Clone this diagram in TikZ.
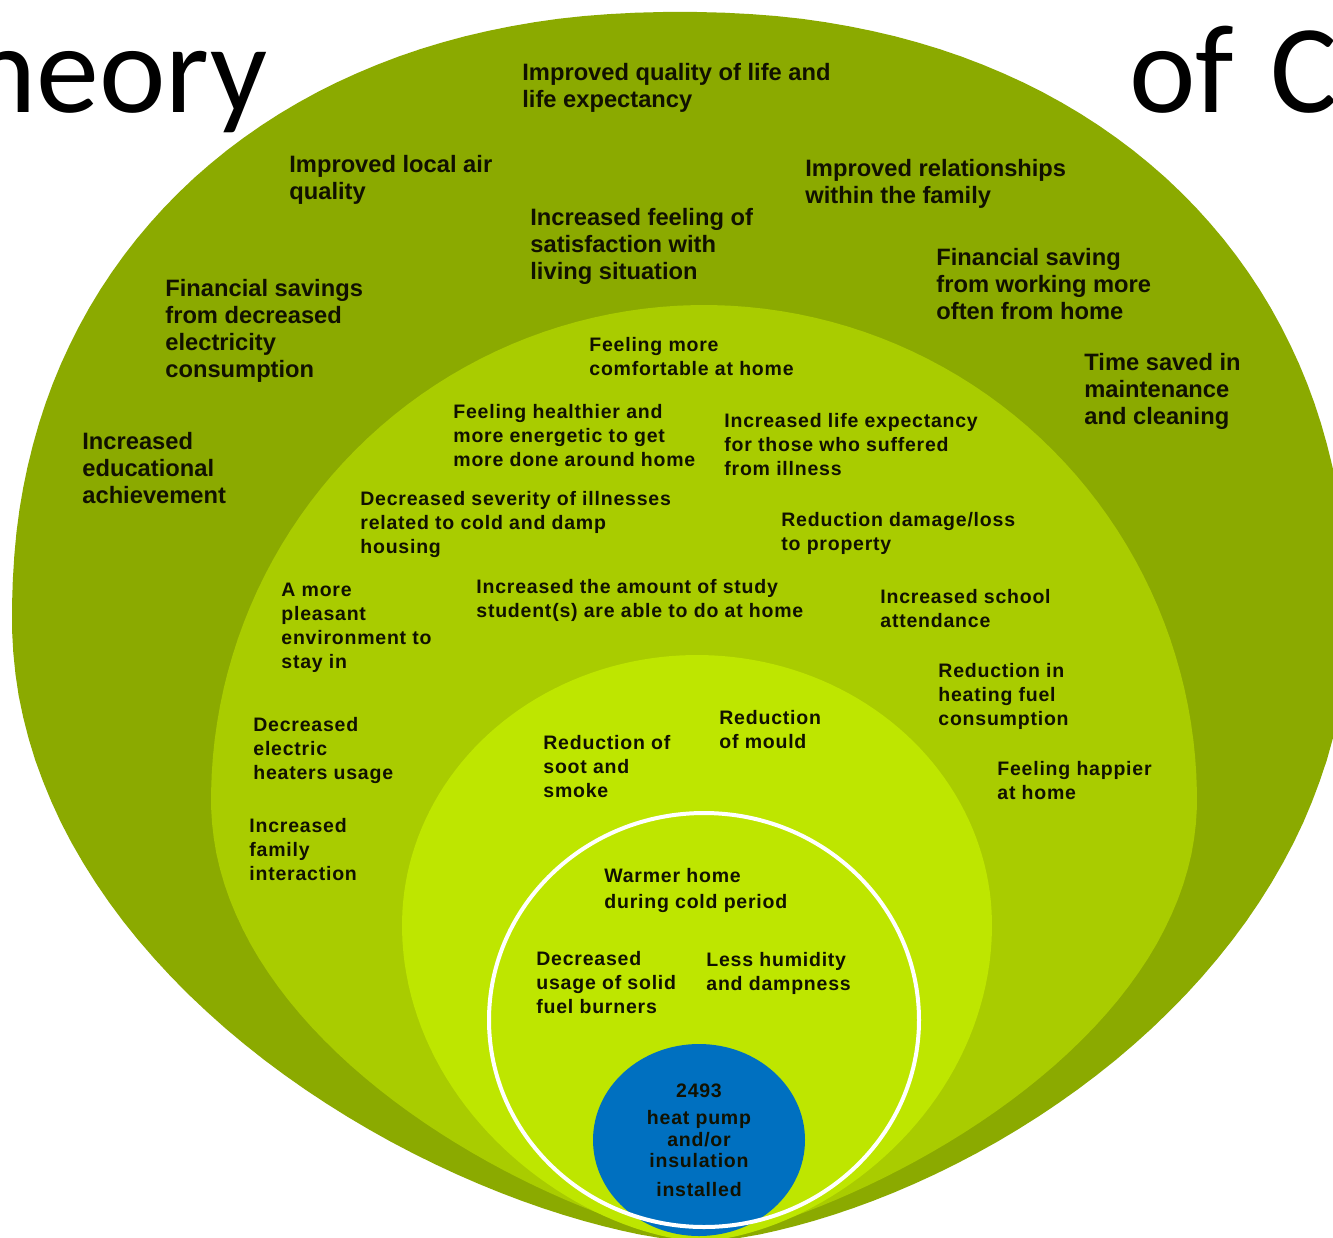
\documentclass[tikz,border=0pt]{standalone}
\usepackage{fontspec}
\setmainfont{Liberation Sans}
\newfontfamily\ringfont{Liberation Sans}[LetterSpace=4.0]
\newfontfamily\titlefont{Carlito}
\usetikzlibrary{shapes.geometric}

\definecolor{outergreen}{HTML}{8BAA00}
\definecolor{midgreen}{HTML}{A9CC00}
\definecolor{innergreen}{HTML}{BEE600}
\definecolor{coreblue}{HTML}{0070C0}
\definecolor{inktext}{HTML}{111100}

% egg outline: centre x, centre y, half width, top height, bottom height,
% top exponent, bottom exponent, shift of the tip
\newcommand{\eggring}[8]{plot[domain=1:359, samples=180, variable=\t]
    ({#1 + #3*cos(\t)/abs(cos(\t))*pow(abs(cos(\t)), (sin(\t) > 0 ? #6 : #7))
        + (sin(\t) < 0 ? #8*sin(\t)*sin(\t) : 0)},
     {sin(\t) > 0 ? #2 - #4*pow(abs(sin(\t)), #6) : #2 - #5*sin(\t)}) -- cycle}

\begin{document}
\begin{tikzpicture}[x=0.5pt, y=-0.5pt,
    outertext/.style={anchor=base west, align=left, inner sep=0pt, text=inktext,
        font=\fontsize{11.85}{13.4}\selectfont\bfseries},
    ringtext/.style={anchor=base west, align=left, inner sep=0pt, text=inktext,
        font=\ringfont\fontsize{9.75}{12}\selectfont\bfseries},
    titletext/.style={inner sep=0pt, font=\titlefont\fontsize{63}{75}\selectfont}]
    \useasboundingbox (0,0) rectangle (1333,1237);
    \fill[white] (0,0) rectangle (1333,1237);

    % nested rings, all meeting at the bottom
    \fill[outergreen] \eggring{680}{620}{668}{608}{622}{0.92}{1.3}{20};
    \fill[midgreen] \eggring{704}{800}{493}{495}{441}{1}{1.5}{-4};
    \fill[innergreen] \eggring{697}{925}{295}{270}{316}{1}{1.2}{3};

    \node[ellipse, fill=coreblue, minimum width=106pt, minimum height=96pt,
        inner sep=0pt, align=center, text=inktext,
        font=\ringfont\fontsize{9.75}{10.75}\selectfont\bfseries] (core) at (699,1140)
        {2493\\[3pt]heat pump\\and/or\\insulation\\[3.5pt]installed};
    \draw[white, line width=2pt] (704,1020) ellipse [x radius=215, y radius=207];

    % slide title, cut by the frame
    \node[titletext, anchor=base east] (theory) at (268,112) {heory};
    \node[titletext, anchor=base west] (change) at (1129,112) {of\hspace{4pt} C};

    % outer ring (nodes sit on their last baseline)
    \node[outertext] (lifequality) at (522,107) {Improved quality of life and\\life expectancy};
    \node[outertext] (airquality) at (289,199) {Improved local air\\quality};
    \node[outertext] (relations) at (805,203) {Improved relationships\\within the family};
    \node[outertext] (satisfaction) at (530,279) {Increased feeling of\\satisfaction with\\living situation};
    \node[outertext] (workhome) at (936,319) {Financial saving\\from working more\\often from home};
    \node[outertext] (electricity) at (165,377) {Financial savings\\from decreased\\electricity\\consumption};
    \node[outertext] (maintenance) at (1084,424) {Time saved in\\maintenance\\and cleaning};
    \node[outertext] (education) at (82,503) {Increased\\educational\\achievement};

    % middle ring
    \node[ringtext] (comfort) at (589,375) {Feeling more\\comfortable at home};
    \node[ringtext] (healthier) at (453,466) {Feeling healthier and\\more energetic to get\\more done around home};
    \node[ringtext] (lifeexp) at (724,475) {Increased life expectancy\\for those who suffered\\from illness};
    \node[ringtext] (severity) at (360,553) {Decreased severity of illnesses\\related to cold and damp\\housing};
    \node[ringtext] (property) at (781,550) {Reduction damage/loss\\to property};
    \node[ringtext] (pleasant) at (281,668) {A more\\pleasant\\environment to\\stay in};
    \node[ringtext] (study) at (476,617) {Increased the amount of study\\student(s) are able to do at home};
    \node[ringtext] (school) at (880,627) {Increased school\\attendance};
    \node[ringtext] (heatingfuel) at (938,725) {Reduction in\\heating fuel\\consumption};
    \node[ringtext] (heaters) at (253,779) {Decreased\\electric\\heaters usage};
    \node[ringtext] (happier) at (997,799) {Feeling happier\\at home};
    \node[ringtext] (family) at (249,880) {Increased\\family\\interaction};

    % inner ring
    \node[ringtext] (soot) at (543,797) {Reduction of\\soot and\\smoke};
    \node[ringtext] (mould) at (719,748) {Reduction\\of mould};

    % white circle
    \node[ringtext] (warmer) at (604,908) {Warmer home\\[1pt]during cold period};
    \node[ringtext] (solidfuel) at (536,1013) {Decreased\\usage of solid\\fuel burners};
    \node[ringtext] (humidity) at (706,990) {Less humidity\\and dampness};
\end{tikzpicture}
\end{document}
